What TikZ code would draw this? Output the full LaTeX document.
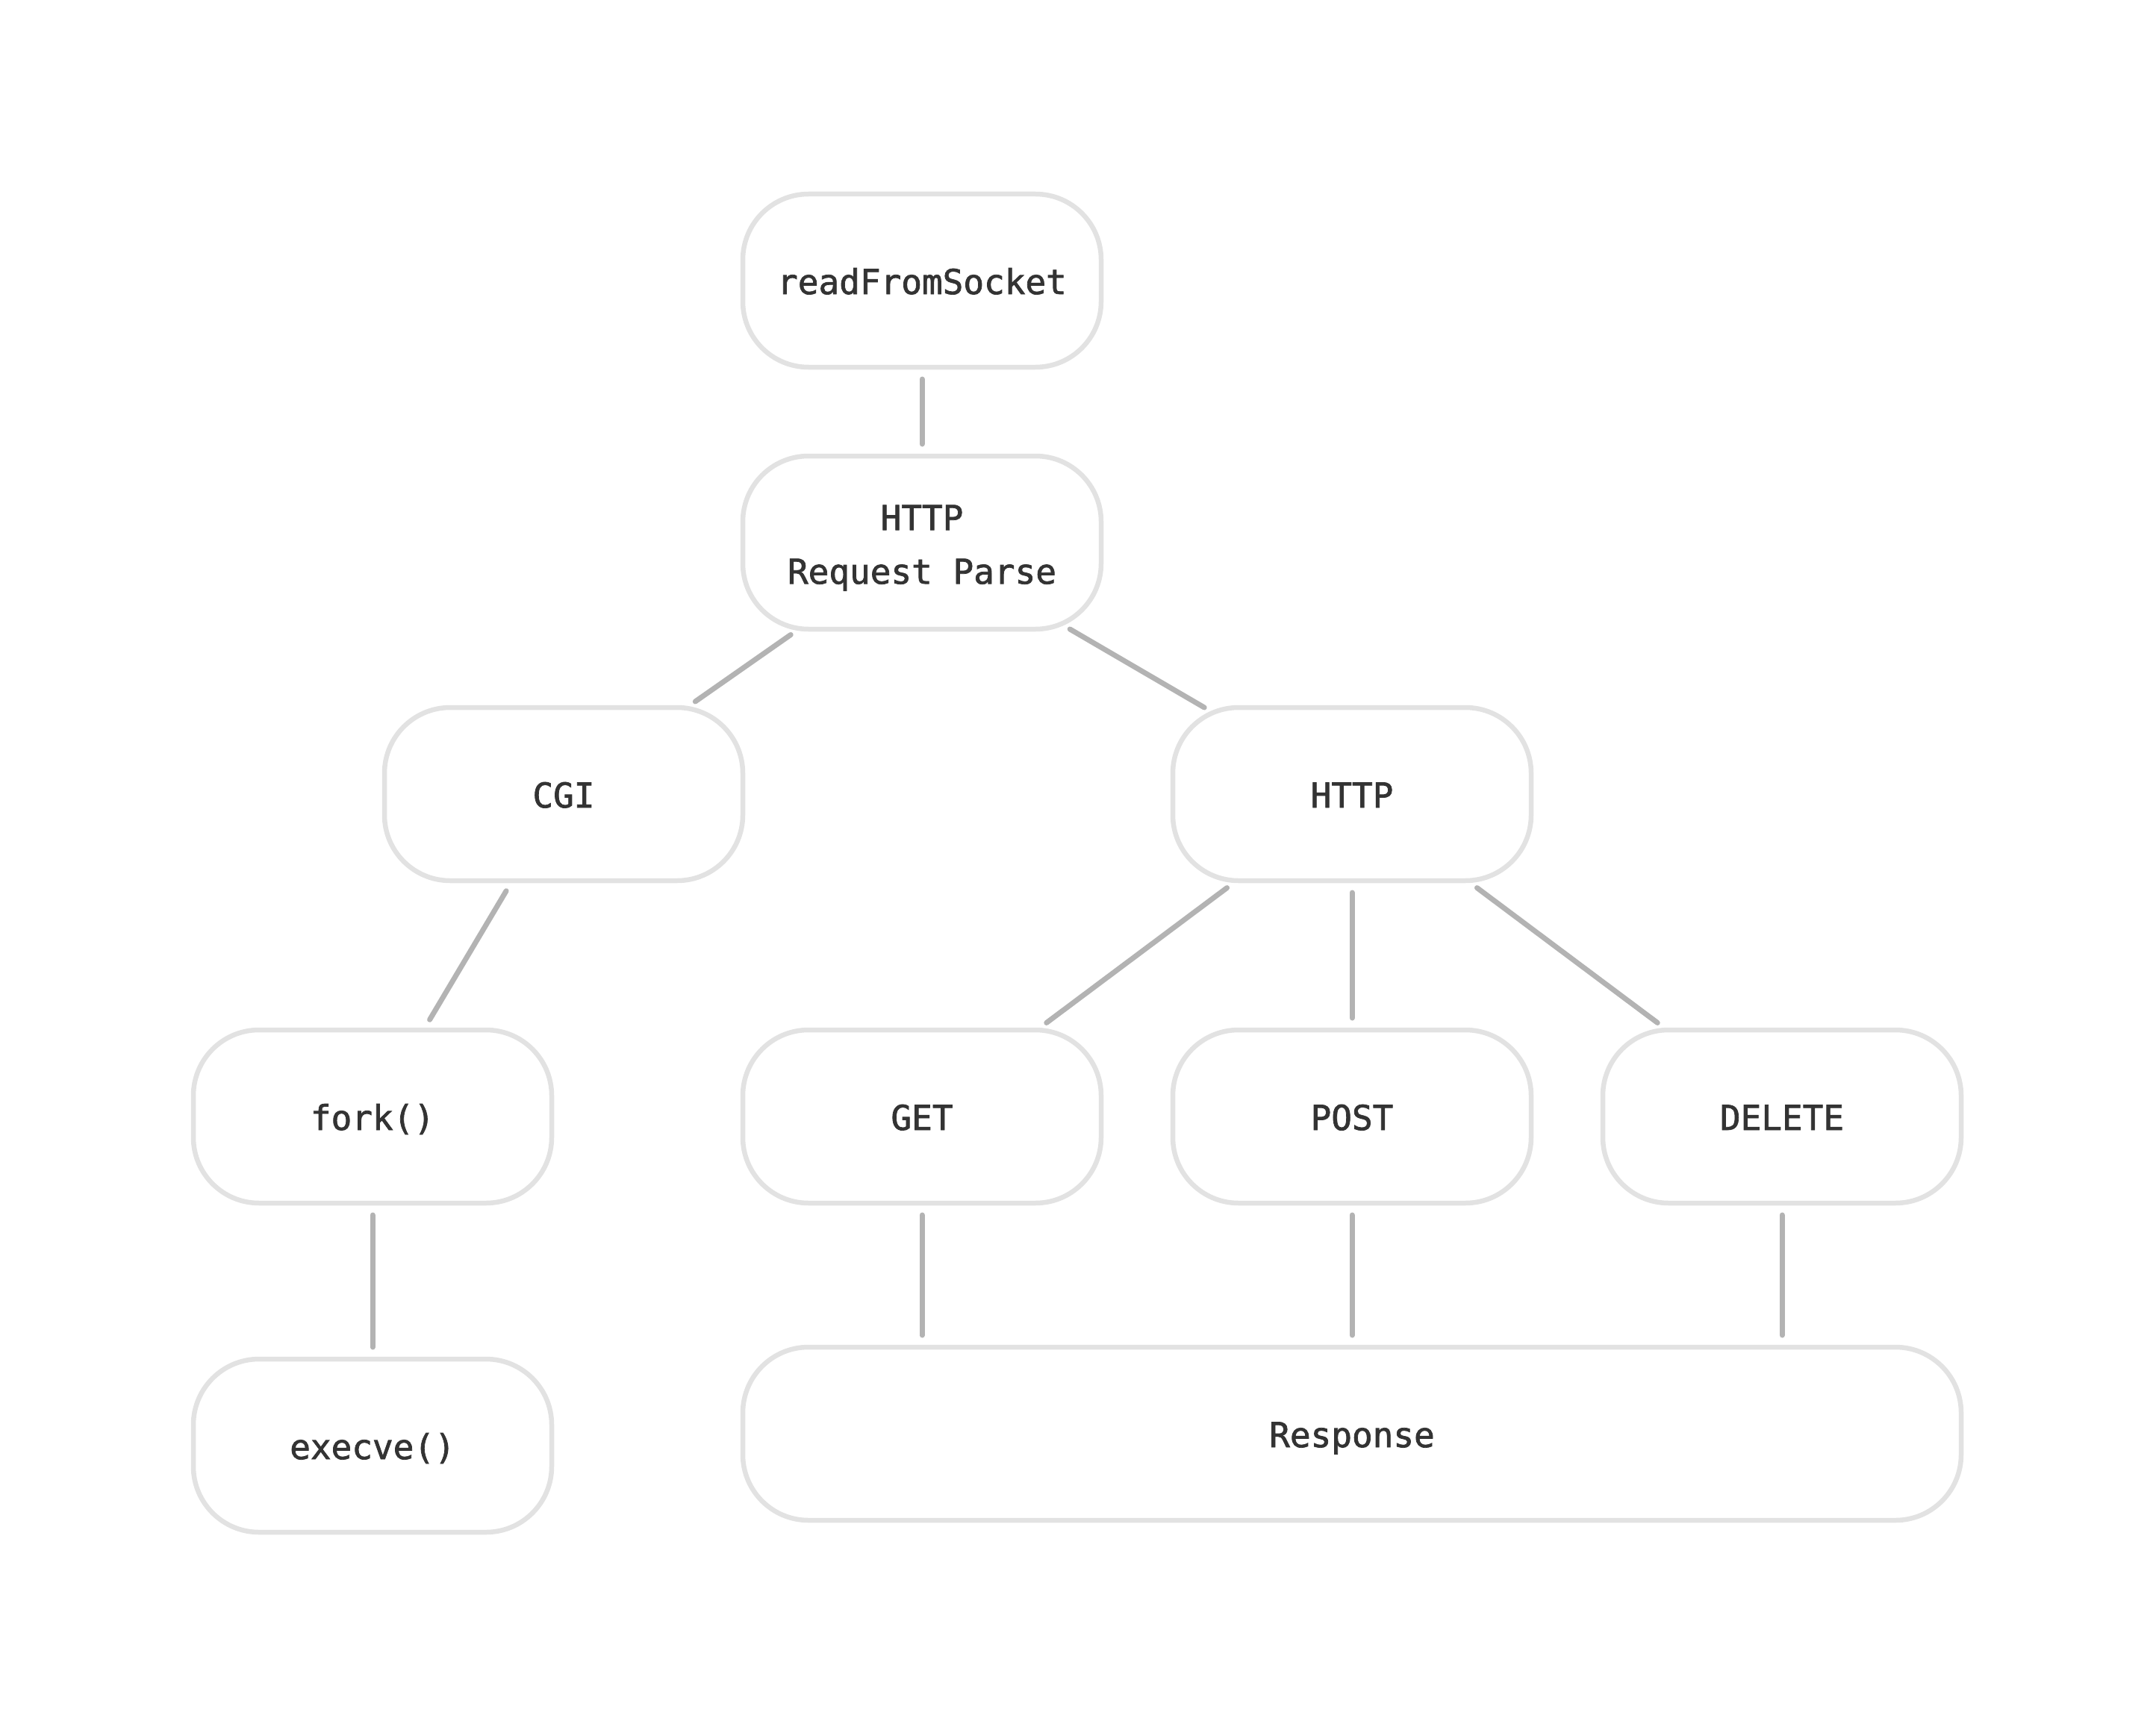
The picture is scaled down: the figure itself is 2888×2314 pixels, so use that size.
\documentclass[tikz,border=0pt]{standalone}
\usepackage{fontspec}
\newfontfamily\boxfont{DejaVu Sans Mono}[FakeBold=1.6]
\definecolor{boxline}{HTML}{E2E2E2}
\definecolor{conn}{HTML}{B3B3B3}
\definecolor{txt}{HTML}{333333}
\begin{document}
\begin{tikzpicture}[x=1pt,y=-1pt,
  box/.style={rectangle, rounded corners=88pt, draw=boxline, line width=6.5pt,
    minimum width=480pt, minimum height=232pt, inner sep=0pt, outer sep=0pt,
    align=center, text=txt, font=\boxfont\fontsize{46}{72}\selectfont},
  one/.style={box, text height=36pt, text depth=0pt},
  link/.style={draw=conn, line width=7pt, line cap=round, shorten <=16pt, shorten >=16pt}]
\useasboundingbox (0,0) rectangle (2888,2314);
\node[one] (rfs) at (1235,376) {readFromSocket};
\node[box] (hrp) at (1235,727) {\rule{0pt}{48pt}HTTP\\Request Parse};
\node[one] (cgi) at (755,1064) {CGI};
\node[one] (http) at (1811,1064) {HTTP};
\node[one] (fork) at (499,1496) {fork()};
\node[one] (get) at (1235,1496) {GET};
\node[one] (post) at (1811,1496) {POST};
\node[one] (del) at (2387,1496) {DELETE};
\node[one] (exec) at (499,1937) {execve()};
\node[one, minimum width=1632pt] (resp) at (1811,1921) {Response};
\draw[link] (rfs) -- (hrp);
\draw[link, shorten <=13pt, shorten >=14pt] (hrp) -- (cgi);
\draw[link, shorten <=0pt, shorten >=0pt] (hrp) -- (http);
\draw[link] (cgi) -- (fork);
\draw[link] (http) -- (get);
\draw[link] (http) -- (post);
\draw[link] (http) -- (del);
\draw[link] (fork) -- (exec);
\draw[link] (get) -- (get |- resp.north);
\draw[link] (post) -- (resp);
\draw[link] (del) -- (del |- resp.north);
\end{tikzpicture}
\end{document}
